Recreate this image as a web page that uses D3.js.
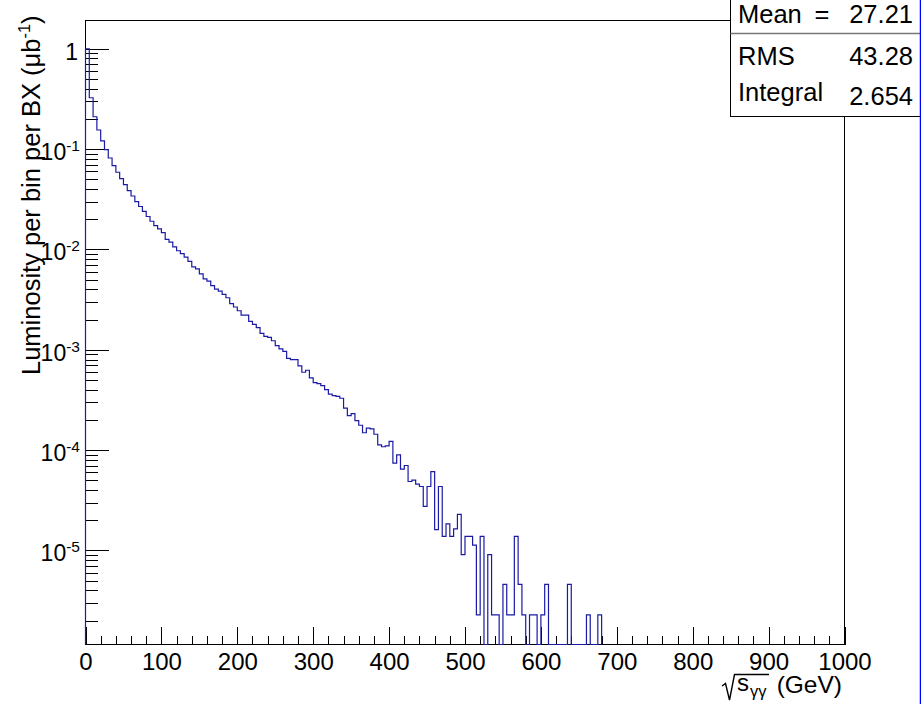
<!DOCTYPE html>
<html lang="en">
<head>
    <meta charset="UTF-8">
    <title>Luminosity per bin per BX</title>
    <script src="https://d3js.org/d3.v7.min.js"></script>
    <style>
        body {
            margin: 0;
            padding: 0;
            background-color: #fff;
        }
        svg {
            display: block;
            font-family: 'Liberation Sans', Arial, sans-serif;
        }
        .tick line {
            stroke: #000;
            shape-rendering: crispEdges;
        }
        .hist {
            fill: none;
            stroke: #1a1aa6;
            stroke-width: 1.2px;
        }
    </style>
</head>
<body>
    <svg width="921" height="704"></svg>
    <script>
        // histogram: 5 GeV bins starting at 0 (bins after the last entry are empty)
        const binWidth = 5;
        const xRange = [0, 1000];
        const lumi = [
            1.0, 0.325, 0.21, 0.155, 0.121, 0.099, 0.0815, 0.0685, 0.0588, 0.0508,
            0.0443, 0.0386, 0.0341, 0.030, 0.0268, 0.0239, 0.0213, 0.0191, 0.0173, 0.016,
            0.0147, 0.0126, 0.0118, 0.0106, 0.0097, 0.0091, 0.0084, 0.0076, 0.0067, 0.0064,
            0.0057, 0.0051, 0.00484, 0.00435, 0.00403, 0.00385, 0.00356, 0.0033, 0.00288, 0.00267,
            0.00245, 0.00222, 0.00222, 0.00192, 0.00179, 0.00166, 0.00146, 0.00136, 0.00133, 0.00123,
            0.0011, 0.00102, 0.000966, 0.000822, 0.000798, 0.000798, 0.00069, 0.000597, 0.000625, 0.000524,
            0.000471, 0.00046, 0.00044, 0.000401, 0.000361, 0.000349, 0.000344, 0.000329, 0.000262, 0.000221,
            0.000231, 0.000197, 0.000177, 0.000149, 0.000166, 0.000163, 0.000144, 0.000113, 0.000108, 0.00011,
            0.000122, 7.43e-5, 8.97e-5, 6.47e-5, 7.03e-5, 4.87e-5, 5.03e-5, 4.59e-5, 4.34e-5, 2.75e-5,
            4.34e-5, 6.12e-5, 1.61e-5, 4.34e-5, 1.38e-5, 1.84e-5, 1.38e-5, 1.64e-5, 2.29e-5, 9.08e-6,
            1.38e-5, 1.38e-5, 1.13e-5, 2.28e-6, 1.38e-5, 0, 9.08e-6, 2.28e-6, 2.28e-6, 0,
            4.6e-6, 2.28e-6, 2.28e-6, 1.38e-5, 4.6e-6, 2.28e-6, 0, 2.28e-6, 2.28e-6, 0,
            2.28e-6, 4.6e-6, 0, 0, 0, 0, 0, 4.6e-6, 0, 0,
            0, 0, 2.28e-6, 0, 0, 2.28e-6
        ];
        const xMajor = [0, 100, 200, 300, 400, 500, 600, 700, 800, 900, 1000];
        const yMajor = [1e-5, 1e-4, 1e-3, 1e-2, 1e-1, 1];
        const yExponents = [-5, -4, -3, -2, -1, 0];
        const yRange = [1.156e-6, 1.912];
        const statNames = ["Mean", "RMS", "Integral"];
        const statValues = ["27.21", "43.28", "2.654"];

        const svg = d3.select("svg");
        const frameLeft = 85.5, frameRight = 844.5, frameTop = 20.5, frameBottom = 644.5;

        const x = d3.scaleLinear().domain(xRange).range([frameLeft, frameRight]);
        const y = d3.scaleLog().domain(yRange).range([frameBottom, frameTop]);

        // frame
        svg.append("rect")
            .attr("x", frameLeft).attr("y", frameTop)
            .attr("width", frameRight - frameLeft).attr("height", frameBottom - frameTop)
            .attr("fill", "none").attr("stroke", "#000").attr("stroke-width", 1);

        // x axis ticks (pointing up into the frame)
        const xMinor = x.ticks(50).filter(d => !xMajor.includes(d));
        svg.append("g")
            .attr("transform", `translate(0,${frameBottom})`)
            .call(d3.axisBottom(x).tickValues(xMinor).tickSize(-9).tickFormat(""))
            .call(g => g.select(".domain").remove());
        const xAxis = svg.append("g")
            .attr("transform", `translate(0,${frameBottom})`)
            .call(d3.axisBottom(x).tickValues(xMajor).tickSize(-18).tickPadding(8).tickFormat(d3.format("d")))
            .call(g => g.select(".domain").remove());
        xAxis.selectAll("text")
            .attr("fill", "#000")
            .style("font-size", "24px")
            .style("font-family", "'Liberation Sans', Arial, sans-serif");

        // y axis ticks (log, pointing right)
        const yMinor = y.ticks().filter(d => !yMajor.some(m => Math.abs(d / m - 1) < 1e-6));
        svg.append("g")
            .attr("transform", `translate(${frameLeft},0)`)
            .call(d3.axisLeft(y).tickValues(yMinor).tickSize(-12).tickFormat(""))
            .call(g => g.select(".domain").remove());
        svg.append("g")
            .attr("transform", `translate(${frameLeft},0)`)
            .call(d3.axisLeft(y).tickValues(yMajor).tickSize(-23).tickFormat(""))
            .call(g => g.select(".domain").remove());

        // y tick labels with exponents
        yMajor.forEach((v, i) => {
            const e = yExponents[i];
            const t = svg.append("text")
                .attr("x", e === 0 ? 78 : 80)
                .attr("y", y(v) + 11)
                .attr("text-anchor", "end")
                .style("font-size", "23px");
            if (e === 0) {
                t.text("1");
            } else {
                t.append("tspan").text("10");
                t.append("tspan")
                    .attr("dy", -9)
                    .style("font-size", "15.5px")
                    .text(String(e));
            }
        });

        // histogram outline
        const pts = [[xRange[0], yRange[0]]];
        lumi.forEach((v, i) => pts.push([i * binWidth, Math.max(v, yRange[0])]));
        const lastEdge = lumi.length * binWidth;
        pts.push([lastEdge, Math.max(lumi[lumi.length - 1], yRange[0])]);
        pts.push([lastEdge, yRange[0]]);

        const line = d3.line()
            .x(d => x(d[0]))
            .y(d => y(d[1]))
            .curve(d3.curveStepAfter);

        svg.append("path")
            .attr("class", "hist")
            .attr("d", line(pts));

        // y axis title
        const yTitle = svg.append("text")
            .attr("transform", "translate(40,375) rotate(-90)")
            .attr("text-anchor", "start")
            .style("font-size", "25.5px");
        yTitle.append("tspan").text("Luminosity per bin per BX (\u03bcb");
        yTitle.append("tspan").attr("dy", -10).style("font-size", "16.5px").text("-1");
        yTitle.append("tspan").attr("dy", 10).text(")");

        // x axis title: sqrt(s_gg) (GeV)
        svg.append("path")
            .attr("d", "M722,686 L725.5,683.5 L729.5,700 L734.5,674.5 L769,674.5")
            .attr("fill", "none")
            .attr("stroke", "#000")
            .attr("stroke-width", 1.4);
        svg.append("text")
            .attr("x", 737).attr("y", 691)
            .style("font-size", "24px")
            .text("s");
        svg.append("text")
            .attr("x", 750).attr("y", 697)
            .style("font-size", "16.5px")
            .text("\u03b3\u03b3");
        svg.append("text")
            .attr("x", 842).attr("y", 693)
            .attr("text-anchor", "end")
            .style("font-size", "24.5px")
            .text("(GeV)");

        // stats box
        const box = svg.append("g");
        box.append("rect")
            .attr("x", 730.5).attr("y", -1)
            .attr("width", 200).attr("height", 117.5)
            .attr("fill", "#fff").attr("stroke", "#000").attr("stroke-width", 1);
        box.append("line")
            .attr("x1", 730.5).attr("x2", 921)
            .attr("y1", 33.5).attr("y2", 33.5)
            .attr("stroke", "#777").attr("stroke-width", 1.5);

        const nameY = [23, 65, 101];
        const valueY = [23, 65, 105];
        statNames.forEach((n, i) => {
            box.append("text")
                .attr("x", 738).attr("y", nameY[i])
                .style("font-size", "25.5px")
                .text(n);
            box.append("text")
                .attr("x", 913).attr("y", valueY[i])
                .attr("text-anchor", "end")
                .style("font-size", "25.5px")
                .text(statValues[i]);
        });
        box.append("text")
            .attr("x", 822).attr("y", 23)
            .attr("text-anchor", "middle")
            .style("font-size", "25.5px")
            .text("=");

        // thin blue border on the right edge of the picture
        svg.append("line")
            .attr("x1", 920.5).attr("x2", 920.5)
            .attr("y1", 0).attr("y2", 704)
            .attr("stroke", "#0000ff").attr("stroke-width", 1.5);
    </script>
</body>
</html>
